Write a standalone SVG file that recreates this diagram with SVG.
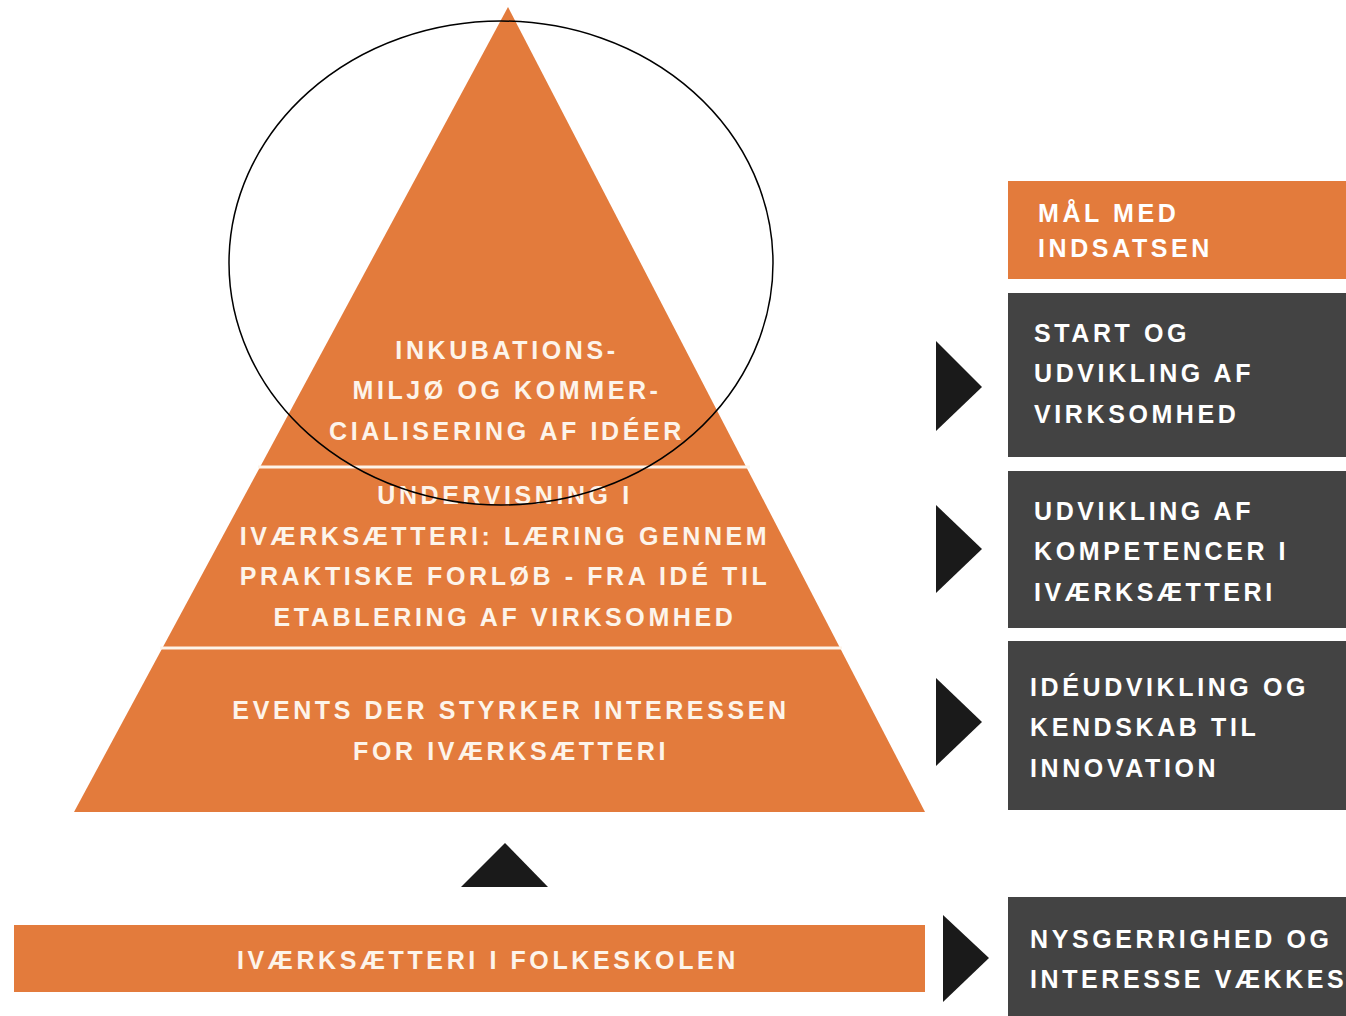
<svg xmlns="http://www.w3.org/2000/svg" width="1346" height="1016" viewBox="0 0 1346 1016">
<style>
.or{fill:#E37B3C}
.dk{fill:#434343}
.ar{fill:#1a1a1a}
.pt{font-family:"Liberation Sans",Arial,sans-serif;font-weight:bold;font-size:25px;letter-spacing:3.6px;fill:#FDF4EA;text-anchor:middle}
.bt{font-family:"Liberation Sans",Arial,sans-serif;font-weight:bold;font-size:25px;letter-spacing:3.6px;fill:#FFFFFF}
.sep{stroke:#FDF4EA;stroke-width:3}
</style>
<rect width="1346" height="1016" fill="#ffffff"/>
<g id="pyramid">
<polygon class="or" points="508,7 925,812 74,812"/>
<line class="sep" x1="258" y1="467" x2="750" y2="467"/>
<line class="sep" x1="160" y1="648" x2="842" y2="648"/>
</g>
<g id="tier-top">
<text class="pt" x="507" y="359">INKUBATIONS-</text>
<text class="pt" x="507" y="399">MILJØ OG KOMMER-</text>
<text class="pt" x="507" y="440">CIALISERING AF IDÉER</text>
</g>
<g id="tier-mid">
<text class="pt" x="505" y="504">UNDERVISNING I</text>
<text class="pt" x="505" y="545">IVÆRKSÆTTERI: LÆRING GENNEM</text>
<text class="pt" x="505" y="585">PRAKTISKE FORLØB - FRA IDÉ TIL</text>
<text class="pt" x="505" y="626">ETABLERING AF VIRKSOMHED</text>
</g>
<g id="tier-bottom">
<text class="pt" x="511" y="719">EVENTS DER STYRKER INTERESSEN</text>
<text class="pt" x="511" y="760">FOR IVÆRKSÆTTERI</text>
</g>
<g id="highlight">
<ellipse cx="501" cy="263" rx="272" ry="242" fill="none" stroke="#000" stroke-width="1.5"/>
</g>
<g id="base">
<rect class="or" x="14" y="925" width="911" height="67"/>
<text class="pt" x="488" y="969">IVÆRKSÆTTERI I FOLKESKOLEN</text>
</g>
<g id="goal-header">
<rect class="or" x="1008" y="181" width="338" height="98"/>
<text class="bt" x="1038" y="222">MÅL MED</text>
<text class="bt" x="1038" y="257">INDSATSEN</text>
</g>
<g id="goal-1">
<rect class="dk" x="1008" y="293" width="338" height="164"/>
<text class="bt" x="1034" y="342">START OG</text>
<text class="bt" x="1034" y="382">UDVIKLING AF</text>
<text class="bt" x="1034" y="423">VIRKSOMHED</text>
</g>
<g id="goal-2">
<rect class="dk" x="1008" y="471" width="338" height="157"/>
<text class="bt" x="1034" y="520">UDVIKLING AF</text>
<text class="bt" x="1034" y="560">KOMPETENCER I</text>
<text class="bt" x="1034" y="601">IVÆRKSÆTTERI</text>
</g>
<g id="goal-3">
<rect class="dk" x="1008" y="641" width="338" height="169"/>
<text class="bt" x="1030" y="696">IDÉUDVIKLING OG</text>
<text class="bt" x="1030" y="736">KENDSKAB TIL</text>
<text class="bt" x="1030" y="777">INNOVATION</text>
</g>
<g id="goal-4">
<rect class="dk" x="1008" y="897" width="338" height="119"/>
<text class="bt" x="1030" y="948">NYSGERRIGHED OG</text>
<text class="bt" x="1030" y="988">INTERESSE VÆKKES</text>
</g>
<g id="connectors">
<polygon class="ar" points="936,341 982,387 936,431"/>
<polygon class="ar" points="936,505 982,549 936,593"/>
<polygon class="ar" points="936,678 982,722 936,766"/>
<polygon class="ar" points="943,915 989,958 943,1002"/>
<polygon class="ar" points="461,887 548,887 505,843"/>
</g>
</svg>
